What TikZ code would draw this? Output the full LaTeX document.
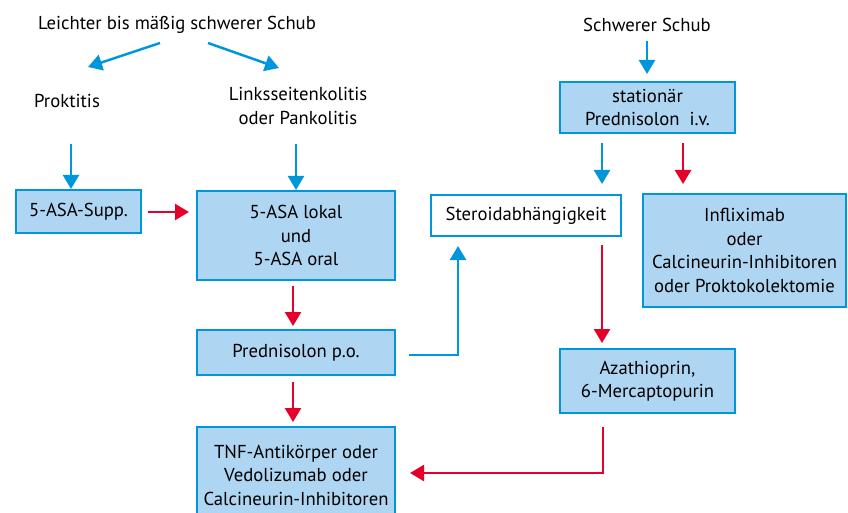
\documentclass[tikz,border=0pt]{standalone}
\usepackage{fontspec}
\setmainfont{PT Sans}
\usetikzlibrary{arrows.meta}
\definecolor{cblue}{HTML}{0096DB}
\definecolor{cfill}{HTML}{AED5F2}
\definecolor{cred}{HTML}{E4002B}
\newcommand{\fs}{\fontsize{18.7pt}{23.5pt}\selectfont}
\tikzset{
  box/.style={draw=cblue, line width=2pt, fill=cfill, align=center, inner sep=0pt, font=\fs},
  wbox/.style={box, fill=white},
  lbl/.style={align=center, inner sep=0pt, font=\fs},
  barrow/.style={draw=cblue, line width=2.5pt, -{Triangle[width=16pt,length=14pt]}},
  rarrow/.style={draw=cred, line width=2.5pt, -{Triangle[width=16pt,length=14pt]}}
}
\begin{document}
\begin{tikzpicture}[x=1pt,y=-1pt]
\useasboundingbox (0,0) rectangle (848,513);
\begin{scope}
\clip (0,0) rectangle (848,513);
% text labels
\node[lbl] (leicht) at (177,25) {Leichter bis mäßig schwerer Schub};
\node[lbl] (prokt) at (67,101) {Proktitis};
\node[lbl] (links) at (298,106) {Linksseitenkolitis\\oder Pankolitis};
\node[lbl] (schwer) at (647,25) {Schwerer Schub};
% boxes
\node[box, minimum width=125pt, minimum height=43pt] (supp) at (78.5,211.5) {5-ASA-Supp.};
\node[box, minimum width=198pt, minimum height=89pt] (lokal) at (296,235.5) {5-ASA lokal\\und\\5-ASA oral};
\node[box, minimum width=198pt, minimum height=45pt] (pred) at (296,352.5) {Prednisolon p.o.};
\node[box, minimum width=198pt, minimum height=96pt] (tnf) at (296,475) {TNF-Antikörper oder\\Vedolizumab oder\\Calcineurin-Inhibitoren};
\node[wbox, minimum width=190pt, minimum height=41pt] (ster) at (526,215.5) {Steroidabhängigkeit};
\node[box, minimum width=203pt, minimum height=113pt] (infl) at (744.5,250.5) {Infliximab\\oder\\Calcineurin-Inhibitoren\\oder Proktokolektomie};
\node[box, minimum width=175pt, minimum height=51pt] (stat) at (647.5,107.5) {stationär\\Prednisolon\ \ i.v.};
\node[box, minimum width=175pt, minimum height=64pt] (aza) at (647.5,381) {Azathioprin,\\6-Mercaptopurin};
% connector end points
\coordinate (l1) at (160,43); \coordinate (l1e) at (88,67);
\coordinate (l2) at (208,43); \coordinate (l2e) at (279,68);
\coordinate (p1) at (71,144); \coordinate (p1e) at (71,189);
\coordinate (k1) at (296,144); \coordinate (k1e) at (296,190);
\coordinate (s1) at (148,212); \coordinate (s1e) at (189,212);
\coordinate (o1) at (293,286); \coordinate (o1e) at (293,326);
\coordinate (q1) at (293,382); \coordinate (q1e) at (293,422);
\coordinate (q2) at (409,355); \coordinate (q2e) at (458,246);
\coordinate (h1) at (647,41); \coordinate (h1e) at (647,74);
\coordinate (t1) at (602,143); \coordinate (t1e) at (602,184);
\coordinate (t2) at (683,143); \coordinate (t2e) at (683,184);
\coordinate (r1) at (602,245); \coordinate (r1e) at (602,343);
\coordinate (a1) at (603,427); \coordinate (a1e) at (410,473);
% connectors
\draw[barrow] (l1) -- (l1e);
\draw[barrow] (l2) -- (l2e);
\draw[barrow] (p1) -- (p1e);
\draw[barrow] (k1) -- (k1e);
\draw[rarrow] (s1) -- (s1e);
\draw[rarrow] (o1) -- (o1e);
\draw[rarrow] (q1) -- (q1e);
\draw[barrow] (q2) -| (q2e);
\draw[barrow] (h1) -- (h1e);
\draw[barrow] (t1) -- (t1e);
\draw[rarrow] (t2) -- (t2e);
\draw[rarrow] (r1) -- (r1e);
\draw[rarrow] (a1) |- (a1e);
\end{scope}
\end{tikzpicture}
\end{document}
